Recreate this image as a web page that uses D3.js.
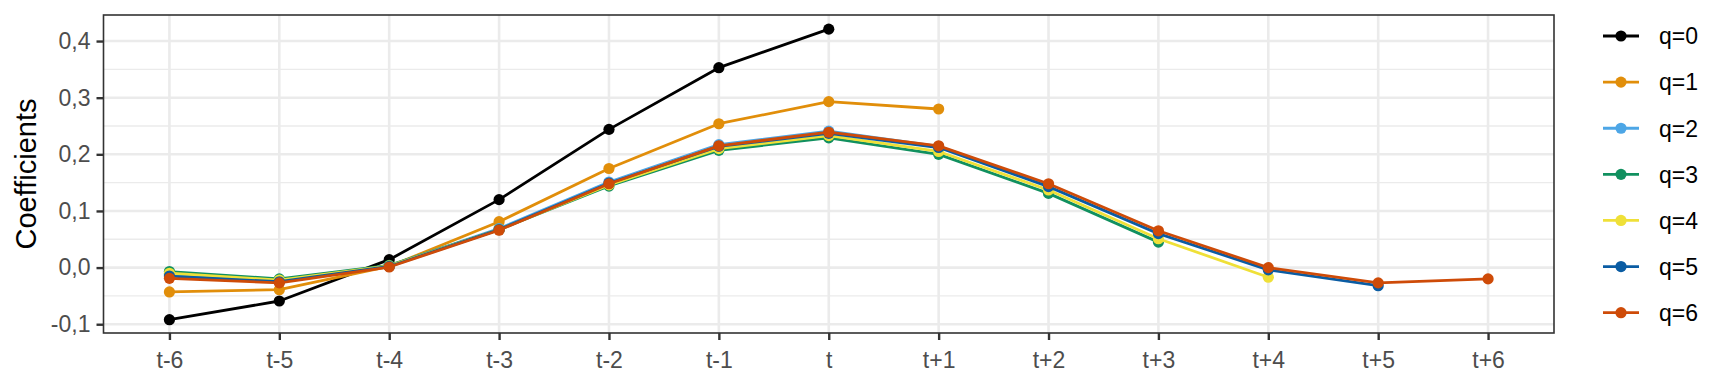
<!DOCTYPE html>
<html>
<head>
<meta charset="utf-8">
<script src="https://cdn.jsdelivr.net/npm/d3@7"></script>
<style>
  body { margin: 0; background: #fff; }
  svg { display: block; font-family: "Liberation Sans", Arial, sans-serif; }
</style>
</head>
<body>
<svg id="chart" width="1728" height="384"></svg>
<script>
// lead/lag coefficients, one series per q
const lags = ["t-6", "t-5", "t-4", "t-3", "t-2", "t-1", "t", "t+1", "t+2", "t+3", "t+4", "t+5", "t+6"];
const seriesNames = ["q=0", "q=1", "q=2", "q=3", "q=4", "q=5", "q=6"];
const seriesColors = ["#000000", "#E18E0A", "#4DA6E6", "#11905F", "#EFE038", "#0A5CA3", "#CE4B08"];

const q0 = [-0.092, -0.059, 0.014, 0.120, 0.244, 0.353, 0.421];
const q1 = [-0.043, -0.039, 0.002, 0.081, 0.175, 0.254, 0.293, 0.280];
const q2 = [-0.012, -0.022, 0.003, 0.069, 0.151, 0.217, 0.241, 0.214, 0.146];
const q3 = [-0.007, -0.020, 0.004, 0.067, 0.144, 0.207, 0.229, 0.200, 0.131, 0.045];
const q4 = [-0.010, -0.022, 0.003, 0.067, 0.146, 0.210, 0.233, 0.205, 0.137, 0.051, -0.017];
const q5 = [-0.015, -0.025, 0.002, 0.067, 0.149, 0.214, 0.237, 0.212, 0.143, 0.060, -0.004, -0.032];
const q6 = [-0.019, -0.027, 0.001, 0.066, 0.148, 0.215, 0.239, 0.215, 0.148, 0.065, 0.000, -0.027, -0.020];
const seriesValues = [q0, q1, q2, q3, q4, q5, q6];

const yTicks = [-0.1, 0, 0.1, 0.2, 0.3, 0.4];
const yMinor = [-0.05, 0.05, 0.15, 0.25, 0.35];

const panel = { left: 103.5, right: 1554, top: 15, bottom: 333 };
const svg = d3.select("#chart");

// discrete axis with ggplot-like 0.6 expansion on each side
const step = (panel.right - panel.left) / (lags.length - 1 + 1.2);
const x = d3.scalePoint().domain(lags)
  .range([panel.left + 0.6 * step, panel.right - 0.6 * step]);
const y = d3.scaleLinear().domain([-0.1155, 0.446]).range([panel.bottom, panel.top]);
const fmt = v => d3.format(".1f")(v).replace(".", ",").replace("−", "-");

const grid = svg.append("g");
grid.selectAll("line.minor").data(yMinor).enter().append("line")
  .attr("x1", panel.left).attr("x2", panel.right)
  .attr("y1", d => y(d)).attr("y2", d => y(d))
  .attr("stroke", "#ebebeb").attr("stroke-width", 1.3);
grid.selectAll("line.major-y").data(yTicks).enter().append("line")
  .attr("x1", panel.left).attr("x2", panel.right)
  .attr("y1", d => y(d)).attr("y2", d => y(d))
  .attr("stroke", "#ebebeb").attr("stroke-width", 2.6);
grid.selectAll("line.major-x").data(lags).enter().append("line")
  .attr("x1", d => x(d)).attr("x2", d => x(d))
  .attr("y1", panel.top).attr("y2", panel.bottom)
  .attr("stroke", "#ebebeb").attr("stroke-width", 2.6);

const line = d3.line().x(d => x(d.lag)).y(d => y(d.v));
const series = seriesValues.map((vals, i) => ({
  name: seriesNames[i], color: seriesColors[i],
  pts: vals.map((v, j) => ({ lag: lags[j], v }))
}));

const marks = svg.append("g");
series.forEach(s => {
  marks.append("path").datum(s.pts)
    .attr("d", line).attr("fill", "none")
    .attr("stroke", s.color).attr("stroke-width", 2.8)
    .attr("stroke-linejoin", "round");
  marks.selectAll(null).data(s.pts).enter().append("circle")
    .attr("cx", d => x(d.lag)).attr("cy", d => y(d.v))
    .attr("r", 5.6).attr("fill", s.color);
});

svg.append("rect")
  .attr("x", panel.left).attr("y", panel.top)
  .attr("width", panel.right - panel.left).attr("height", panel.bottom - panel.top)
  .attr("fill", "none").attr("stroke", "#333333").attr("stroke-width", 1.6);

// axes
const yAxis = svg.append("g").attr("transform", `translate(${panel.left},0)`)
  .call(d3.axisLeft(y).tickValues(yTicks).tickFormat(fmt).tickSize(7).tickPadding(6));
const xAxis = svg.append("g").attr("transform", `translate(0,${panel.bottom})`)
  .call(d3.axisBottom(x).tickSize(7).tickPadding(6));
[yAxis, xAxis].forEach(a => {
  a.select(".domain").remove();
  a.selectAll(".tick line").attr("stroke", "#333333").attr("stroke-width", 2.4);
  a.selectAll(".tick text").attr("fill", "#4d4d4d")
    .style("font-size", "23px").style("font-family", "'Liberation Sans', Arial, sans-serif");
});
xAxis.selectAll(".tick text").attr("dy", "0.95em");

svg.append("text")
  .attr("transform", `translate(36,${(panel.top + panel.bottom) / 2}) rotate(-90)`)
  .attr("text-anchor", "middle")
  .style("font-size", "29px").attr("fill", "#000")
  .text("Coefficients");

// legend
const legend = svg.append("g");
const rowY = d3.scalePoint().domain(seriesNames).range([36, 312.7]);
series.forEach(s => {
  const g = legend.append("g").attr("transform", `translate(0,${rowY(s.name)})`);
  g.append("line").attr("x1", 1603).attr("x2", 1639)
    .attr("stroke", s.color).attr("stroke-width", 2.8);
  g.append("circle").attr("cx", 1621).attr("r", 5.6).attr("fill", s.color);
  g.append("text").attr("x", 1659).attr("dy", "0.36em")
    .style("font-size", "23px").attr("fill", "#000").text(s.name);
});
</script>
</body>
</html>
